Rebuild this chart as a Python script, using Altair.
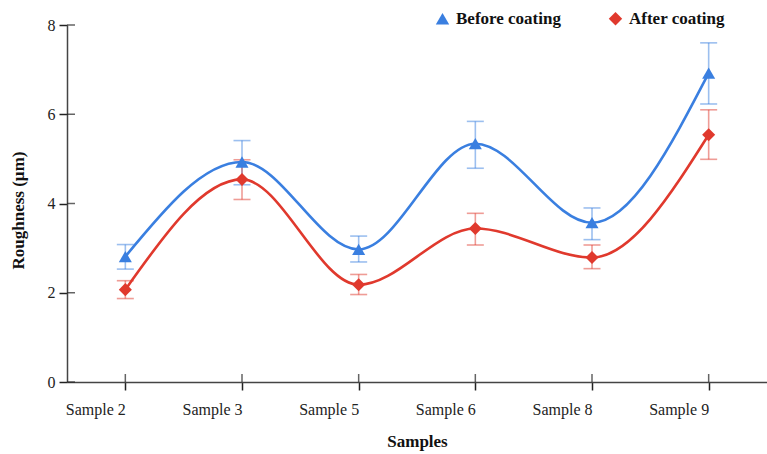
import altair as alt
import pandas as pd

samples = ["Sample 2", "Sample 3", "Sample 5", "Sample 6", "Sample 8", "Sample 9"]
series_names = ["Before coating", "After coating"]

before = [2.81, 4.93, 2.97, 5.34, 3.57, 6.92]
before_lo = [2.53, 4.42, 2.69, 4.79, 3.19, 6.23]
before_hi = [3.08, 5.41, 3.27, 5.84, 3.90, 7.60]

after = [2.07, 4.54, 2.18, 3.44, 2.79, 5.54]
after_lo = [1.87, 4.09, 1.96, 3.07, 2.54, 4.99]
after_hi = [2.27, 4.98, 2.41, 3.78, 3.07, 6.10]

y_ticks = [0, 2, 4, 6, 8]

rows = []
for s, v, lo, hi in zip(samples, before, before_lo, before_hi):
    rows.append({"Sample": s, "Series": series_names[0], "value": v, "lo": lo, "hi": hi})
for s, v, lo, hi in zip(samples, after, after_lo, after_hi):
    rows.append({"Sample": s, "Series": series_names[1], "value": v, "lo": lo, "hi": hi})
df = pd.DataFrame(rows)

colors = ["#3a7fe0", "#e0392d"]
FONT = "Liberation Serif"

x_scale = alt.Scale(type="point", padding=0.5)
x_plain = alt.X("Sample:N", sort=samples, scale=x_scale)
x_enc = alt.X("Sample:N", sort=samples, scale=x_scale,
              axis=alt.Axis(title="Samples", labelAngle=0, tickSize=8, tickWidth=1.5,
                            tickColor="#222", domainColor="#444", domainWidth=1.5,
                            labelFont=FONT, labelFontSize=16, labelColor="#222",
                            labelPadding=19, titleFont=FONT, titleFontSize=17,
                            titleFontWeight="bold", titleColor="#111",
                            titleY=59, titleBaseline="middle", grid=False))
y_scale = alt.Scale(domain=[0, 8], nice=False)
y_enc = alt.Y("value:Q", scale=y_scale,
              axis=alt.Axis(title="Roughness (µm)", values=y_ticks, tickSize=8, tickWidth=1.5,
                            tickColor="#222", domainColor="#444", domainWidth=1.5,
                            labelFont=FONT, labelFontSize=16, labelColor="#222",
                            labelPadding=4, titleFont=FONT, titleFontSize=17,
                            titleFontWeight="bold", titleColor="#111",
                            titleX=-49, titleY=185, titleAngle=-90,
                            titleAlign="center", titleBaseline="middle", grid=False))

color_scale = alt.Scale(domain=series_names, range=colors)
shape_scale = alt.Scale(domain=series_names, range=["triangle-up", "diamond"])

base = alt.Chart(df)

layers = []
# error bars and curves, one series at a time
for name, col in zip(series_names, colors):
    sub = base.transform_filter(alt.datum.Series == name)
    layers.append(sub.mark_rule(strokeWidth=1.6, opacity=0.5, color=col).encode(
        x=x_plain, y=alt.Y("lo:Q", scale=y_scale), y2="hi:Q"))
    layers.append(sub.mark_tick(orient="horizontal", size=17, thickness=1.6,
                                opacity=0.5, color=col).encode(
        x=x_plain, y=alt.Y("lo:Q", scale=y_scale)))
    layers.append(sub.mark_tick(orient="horizontal", size=17, thickness=1.6,
                                opacity=0.5, color=col).encode(
        x=x_plain, y=alt.Y("hi:Q", scale=y_scale)))
for name, col in zip(series_names, colors):
    sub = base.transform_filter(alt.datum.Series == name)
    layers.append(sub.mark_line(interpolate="monotone", strokeWidth=2.6, color=col).encode(
        x=x_enc, y=y_enc))

legend = alt.Legend(title=None, orient="none", direction="horizontal",
                    legendX=367, legendY=-15,
                    labelFont=FONT, labelFontSize=17,
                    labelFontWeight="bold", labelColor="#111",
                    symbolSize=180, symbolStrokeWidth=0,
                    columnPadding=46, labelOffset=5)

points = base.mark_point(filled=True, size=170, opacity=1).encode(
    x=x_plain,
    y=alt.Y("value:Q", scale=y_scale),
    color=alt.Color("Series:N", scale=color_scale, sort=series_names, legend=legend),
    shape=alt.Shape("Series:N", scale=shape_scale, sort=series_names, legend=legend),
)
layers.append(points)

# inner halves of crossing ticks
tick_df = pd.DataFrame({"Sample": samples})
layers.append(alt.Chart(tick_df).mark_tick(orient="vertical", size=8, thickness=1.5,
                                           color="#222", yOffset=-4).encode(
    x=x_plain,
    y=alt.datum(0, type="quantitative", scale=y_scale),
))
ytick_df = pd.DataFrame({"v": y_ticks})
layers.append(alt.Chart(ytick_df).mark_tick(orient="horizontal", size=8, thickness=1.5,
                                            color="#222", xOffset=4).encode(
    y=alt.Y("v:Q", scale=y_scale),
    x=alt.value(0),
))

chart = alt.layer(*layers).properties(
    width=700, height=357,
    autosize=alt.AutoSizeParams(type="none"),
    padding={"left": 67, "top": 25, "right": 0, "bottom": 72},
    background="white",
).configure_view(stroke=None)

chart.save("out.html", embed_options={"renderer": "svg", "actions": False})
